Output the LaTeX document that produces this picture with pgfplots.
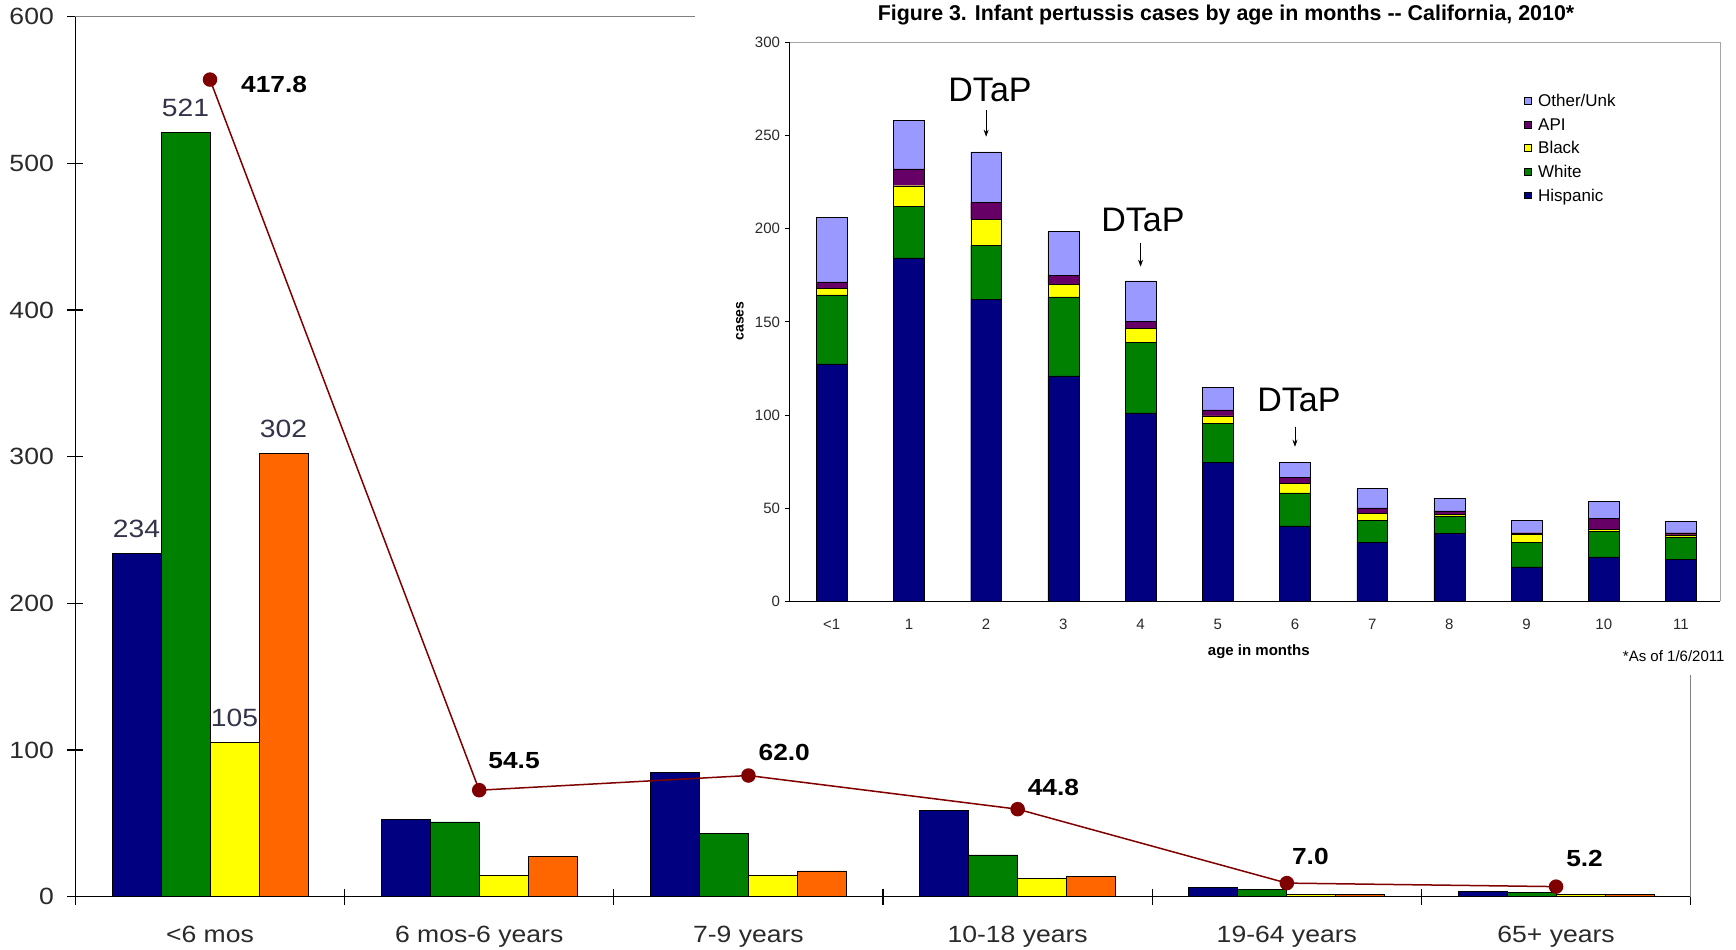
\documentclass[border=0pt]{standalone}
\usepackage{pgfplots}
\pgfplotsset{compat=1.18}
\usepackage{fontspec}
\setmainfont{Liberation Sans}
\newfontfamily\widesans[FakeStretch=1.13]{Liberation Sans}
\usetikzlibrary{arrows.meta}

\definecolor{cnavy}{HTML}{000080}
\definecolor{cgreen}{HTML}{008000}
\definecolor{cyellow}{HTML}{FFFF00}
\definecolor{corange}{HTML}{FF6600}
\definecolor{cline}{HTML}{800000}
\definecolor{clav}{HTML}{9999FF}
\definecolor{cpurple}{HTML}{660066}
\definecolor{ctext}{HTML}{2A2A2A}
\definecolor{clabel}{HTML}{33334A}

\def\mainfs{\widesans\fontsize{23.5bp}{28bp}\selectfont}
\def\datafs{\widesans\fontsize{25bp}{29bp}\selectfont}
\def\linefs{\widesans\fontsize{23.3bp}{27bp}\selectfont\bfseries}
\def\insfs{\fontsize{15bp}{18bp}\selectfont}

\begin{document}
\begin{tikzpicture}
\path[use as bounding box, fill=white] (0,0) rectangle (1736bp,950bp);

% ---------------- main chart: bars ----------------
\begin{axis}[
  at={(75.4bp,53.2bp)}, anchor=south west,
  scale only axis, width=1615.3bp, height=880.2bp,
  xmin=-0.5, xmax=5.5, ymin=0, ymax=600,
  axis x line*=bottom, axis y line*=left,
  axis line style={black, line width=1.2bp},
  tick align=center,
  major tick length=16bp,
  tick style={black, line width=1.2bp},
  xtick={-0.5,0.5,1.5,2.5,3.5,4.5,5.5}, xticklabels={},
  extra x ticks={0,1,2,3,4,5},
  extra x tick labels={{<6 mos},{6 mos-6 years},{7-9 years},{10-18 years},{19-64 years},{65+ years}},
  extra x tick style={major tick length=0pt, xticklabel style={anchor=base, yshift=-46bp}},
  ytick={0,100,...,600},
  yticklabel style={anchor=east, inner sep=0pt, xshift=-13.4bp},
  ticklabel style={font=\mainfs, text=ctext},
  /pgf/number format/assume math mode=true,
  clip=false,
]
\addplot[ybar, bar width=0.182, bar shift=-0.273, fill=cnavy, draw=black, line width=0.8bp]
  coordinates {(0,234) (1,53) (2,84.5) (3,58.7) (4,6.4) (5,3.9)};
\addplot[ybar, bar width=0.182, bar shift=-0.091, fill=cgreen, draw=black, line width=0.8bp]
  coordinates {(0,521) (1,51) (2,43.4) (3,28.5) (4,4.8) (5,2.7)};
\addplot[ybar, bar width=0.182, bar shift=0.091, fill=cyellow, draw=black, line width=0.8bp]
  coordinates {(0,105) (1,14.6) (2,14.6) (3,12.6) (4,1.6) (5,1.6)};
\addplot[ybar, bar width=0.182, bar shift=0.273, fill=corange, draw=black, line width=0.8bp]
  coordinates {(0,302) (1,27.5) (2,17.6) (3,13.7) (4,1.8) (5,1.8)};
\node[font=\datafs, text=clabel, anchor=base, yshift=16bp] at (axis cs:-0.273,234) {234};
\node[font=\datafs, text=clabel, anchor=base, yshift=16bp] at (axis cs:-0.091,521) {521};
\node[font=\datafs, text=clabel, anchor=base, yshift=16bp] at (axis cs:0.091,105) {105};
\node[font=\datafs, text=clabel, anchor=base, yshift=16bp] at (axis cs:0.273,302) {302};
\draw[gray, line width=1bp] (rel axis cs:0,1) -- (rel axis cs:1,1) -- (rel axis cs:1,0);
\end{axis}

% ---------------- main chart: rate line (secondary scale) ----------------
\begin{axis}[
  at={(75.4bp,53.2bp)}, anchor=south west,
  scale only axis, width=1615.3bp, height=880.2bp,
  xmin=-0.5, xmax=5.5, ymin=0, ymax=450,
  hide axis, clip=false,
]
\addplot[cline, line width=1.5bp, mark=*, mark size=6.5bp, mark options={fill=cline, draw=cline}]
  coordinates {(0,417.8) (1,54.5) (2,62.0) (3,44.8) (4,7.0) (5,5.2)};
\node[font=\linefs, inner sep=0pt, anchor=base west, xshift=31bp, yshift=-13.3bp] at (axis cs:0,417.8) {417.8};
\node[font=\linefs, inner sep=0pt, anchor=base west, xshift=9bp, yshift=21.4bp] at (axis cs:1,54.5) {54.5};
\node[font=\linefs, inner sep=0pt, anchor=base west, xshift=10bp, yshift=15bp] at (axis cs:2,62.0) {62.0};
\node[font=\linefs, inner sep=0pt, anchor=base west, xshift=10bp, yshift=13.7bp] at (axis cs:3,44.8) {44.8};
\node[font=\linefs, inner sep=0pt, anchor=base west, xshift=5bp, yshift=19bp] at (axis cs:4,7.0) {7.0};
\node[font=\linefs, inner sep=0pt, anchor=base west, xshift=10bp, yshift=20bp] at (axis cs:5,5.2) {5.2};
\end{axis}

% ---------------- inset background ----------------
\fill[white] (695bp,275bp) rectangle (1736bp,950bp);

% ---------------- inset chart ----------------
\begin{axis}[
  at={(789.5bp,348.5bp)}, anchor=south west,
  scale only axis, width=930.5bp, height=559.3bp,
  xmin=-0.547, xmax=11.505, ymin=0, ymax=300,
  ybar stacked, bar width=0.4,
  axis x line*=bottom, axis y line*=left,
  axis line style={black, line width=0.9bp},
  tick align=outside, major tick length=4.5bp,
  tick style={black, line width=0.7bp},
  xtick={0,...,11}, xticklabels={<1,1,2,3,4,5,6,7,8,9,10,11},
  x tick style={draw=none},
  xticklabel style={anchor=base, yshift=-23.6bp},
  ytick={0,50,...,300},
  yticklabel style={anchor=east, inner sep=0pt, xshift=-4.8bp},
  ticklabel style={font=\insfs, text=ctext},
  /pgf/number format/assume math mode=true,
  reverse legend,
  legend cell align=left,
  legend image code/.code={\draw[#1, draw=black, line width=0.4bp] (0bp,-3.4bp) rectangle (6.8bp,3.4bp);},
  legend style={at={(0.7893,0.9061)}, anchor=north west, draw=none, fill=none,
    inner sep=0pt, outer sep=0pt, row sep=11.6bp, column sep=7bp,
    font=\fontsize{17bp}{20bp}\selectfont,
    nodes={text height=12bp, text depth=0bp, inner sep=0bp}},
  clip=false,
]
\addplot[fill=cnavy, draw=black, line width=0.4bp] coordinates
  {(0,127.5) (1,184.3) (2,162.1) (3,121) (4,101.2) (5,74.6) (6,40.6) (7,31.9) (8,36.5) (9,18.6) (10,23.9) (11,22.5)};
\addplot[fill=cgreen, draw=black, line width=0.4bp] coordinates
  {(0,37) (1,27.7) (2,28.9) (3,42.4) (4,37.8) (5,20.8) (6,17.7) (7,11.5) (8,9.4) (9,13.1) (10,13.7) (11,12.1)};
\addplot[fill=cyellow, draw=black, line width=0.4bp] coordinates
  {(0,3.4) (1,11) (2,14) (3,6.8) (4,7.5) (5,4.2) (6,5.2) (7,3.9) (8,0.9) (9,4.3) (10,1.2) (11,1.2)};
\addplot[fill=cpurple, draw=black, line width=0.4bp] coordinates
  {(0,3.5) (1,9) (2,9.1) (3,4.8) (4,3.8) (5,3.2) (6,3) (7,2.9) (8,1.8) (9,0.9) (10,5.9) (11,1.1)};
\addplot[fill=clav, draw=black, line width=0.4bp] coordinates
  {(0,34.8) (1,26.2) (2,27.1) (3,23.4) (4,21.7) (5,12.2) (6,8.1) (7,10.4) (8,6.9) (9,6.5) (10,9.2) (11,6)};
\legend{Hispanic,White,Black,API,Other/Unk}
\draw[gray!70, line width=0.8bp] (rel axis cs:0,1) -- (rel axis cs:1,1) -- (rel axis cs:1,0);
% DTaP annotations
\node[font=\fontsize{34bp}{38bp}\selectfont] at (axis cs:2.05,274.2) {DTaP};
\draw[-{Stealth[length=7bp,width=5bp]}, line width=0.8bp] (axis cs:2,263.6) -- (axis cs:2,249.3);
\node[font=\fontsize{34bp}{38bp}\selectfont] at (axis cs:4.03,204.5) {DTaP};
\draw[-{Stealth[length=7bp,width=5bp]}, line width=0.8bp] (axis cs:4,192.5) -- (axis cs:4,179.6);
\node[font=\fontsize{34bp}{38bp}\selectfont] at (axis cs:6.05,108.1) {DTaP};
\draw[-{Stealth[length=7bp,width=5bp]}, line width=0.8bp] (axis cs:6,93.8) -- (axis cs:6,83);
\end{axis}

% ---------------- inset texts ----------------
\node[font=\fontsize{21.4bp}{25bp}\selectfont\bfseries] at (1226bp,935bp) {Figure 3. Infant pertussis cases by age in months -{}- California, 2010*};
\node[font=\fontsize{14bp}{16bp}\selectfont\bfseries, rotate=90] at (740bp,629bp) {cases};
\node[font=\fontsize{15bp}{18bp}\selectfont\bfseries] at (1258.8bp,298bp) {age in months};
\node[font=\insfs] at (1673.7bp,293.5bp) {*As of 1/6/2011};
\end{tikzpicture}
\end{document}
